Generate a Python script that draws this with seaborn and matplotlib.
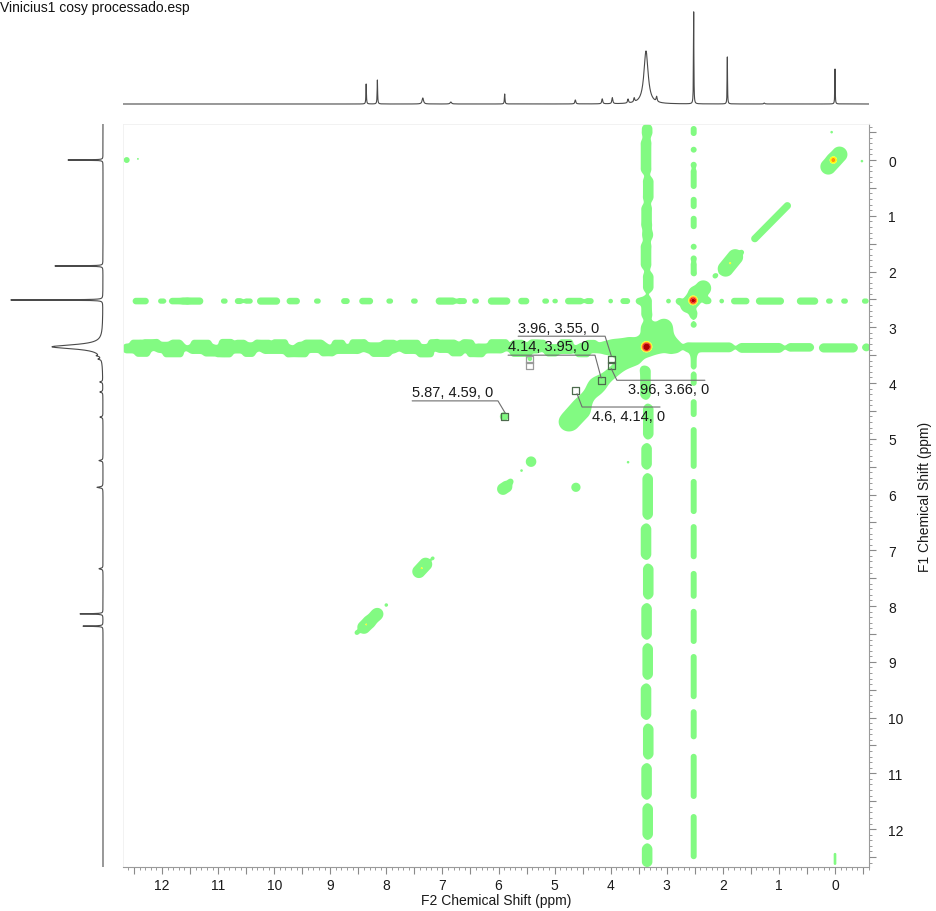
import numpy as np
import pandas as pd
import matplotlib
matplotlib.use("Agg")
import matplotlib.pyplot as plt
import seaborn as sns
from matplotlib.ticker import MultipleLocator, FuncFormatter

sns.set_theme(style="white")
plt.rcParams["font.family"] = ["Liberation Sans", "DejaVu Sans"]

# ---------------- data (ppm) ----------------
# 1D projection on top (F2): positions, heights, widths
top_ppm = [8.36, 8.16, 7.35, 6.85, 5.89, 4.63, 4.15, 3.97, 3.69, 3.58, 3.37, 3.18, 2.52, 1.92, 1.26, 0.00]
top_h = [20, 24, 6, 2, 10, 4, 5, 6, 4, 4, 53, 5, 92, 47, 1, 35]
top_w = [0.01, 0.01, 0.03, 0.03, 0.012, 0.02, 0.02, 0.02, 0.02, 0.02, 0.09, 0.02, 0.008, 0.008, 0.02, 0.008]

# 1D projection on left (F1)
side_ppm = [0.00, 1.90, 2.51, 3.35, 3.51, 3.57, 3.98, 4.16, 4.61, 5.39, 5.87, 7.33, 8.14, 8.36]
side_h = [35, 48, 92, 51, 3, 3, 3, 3, 3, 4, 6, 4, 23, 20]
side_w = [0.008, 0.008, 0.008, 0.09, 0.02, 0.02, 0.02, 0.02, 0.02, 0.02, 0.02, 0.02, 0.01, 0.01]

# strong diagonal peaks (coloured centres)
pk_f2 = [3.36, 2.53, 0.03, 1.87, 7.37, 8.36, 8.16]
pk_f1 = [3.35, 2.52, 0.00, 1.85, 7.32, 8.33, 8.14]
pk_amp = [100, 40, 8, 2.6, 2.5, 2.4, 1.8]
pk_sig = [0.035, 0.035, 0.04, 0.025, 0.025, 0.025, 0.02]

# green blobs / ridges: segment (f2a, f1a) -> (f2b, f1b), width
bl_f2a = [0.12, 2.62, 1.95, 1.43, 3.05, 3.60, 4.25, 4.52, 5.92, 5.42, 4.62, 7.42, 8.16, 8.40,
          12.63, 12.43, 5.90, 5.44, 2.14, 1.66, 0.06, -0.48, 5.59, 3.69, 7.17, 8.53, 8.00, 0.00, 5.78,
          3.30, 3.70]
bl_f1a = [0.12, 2.60, 1.95, 1.41, 3.00, 3.50, 4.05, 4.50, 5.90, 5.41, 5.87, 7.38, 8.14, 8.38,
          0.00, -0.02, 4.60, 3.57, 2.08, 1.65, -0.50, 0.02, 5.57, 5.42, 7.14, 8.48, 7.98, 12.45, 5.76,
          3.34, 3.33]
bl_f2b = [-0.08, 2.35, 1.78, 0.85, 3.62, 4.25, 4.78, 4.70, 5.86, 5.42, 4.62, 7.30, 8.16, 8.32,
          12.63, 12.43, 5.90, 5.44, 2.14, 1.66, 0.06, -0.48, 5.59, 3.69, 7.17, 8.53, 8.00, 0.00, 5.78,
          2.95, 3.95]
bl_f1b = [-0.10, 2.30, 1.74, 0.82, 3.50, 4.05, 4.70, 4.68, 5.86, 5.41, 5.87, 7.25, 8.14, 8.30,
          0.00, -0.02, 4.60, 3.57, 2.08, 1.65, -0.50, 0.02, 5.57, 5.42, 7.14, 8.48, 7.98, 12.62, 5.76,
          3.30, 3.36]
bl_w = [0.12, 0.12, 0.12, 0.055, 0.13, 0.09, 0.10, 0.12, 0.09, 0.08, 0.07, 0.10, 0.09, 0.10,
        0.045, 0.015, 0.065, 0.03, 0.03, 0.02, 0.02, 0.02, 0.02, 0.02, 0.02, 0.025, 0.025, 0.02, 0.03,
        0.12, 0.11]

# horizontal t1-noise dashes at F1 = 2.53 (F2 centre, visible length)
h25_f1 = 2.53
h25_c = [12.38, 12.00, 11.73, 11.43, 10.89, 10.63, 10.46, 10.10, 9.66, 9.23, 8.73, 8.36, 7.94, 7.50,
         6.94, 6.65, 6.41, 5.99, 5.55, 5.16, 4.99, 4.65, 4.38, 4.00, 3.74, 3.49, 2.97, 2.79, 2.27,
         2.02, 1.69, 1.16, 0.49, 0.10, -0.17, -0.54]
h25_len = [0.25, 0.11, 0.25, 0.29, 0.09, 0.11, 0.12, 0.37, 0.20, 0.09, 0.12, 0.21, 0.09, 0.09,
           0.32, 0.14, 0.09, 0.36, 0.16, 0.09, 0.07, 0.29, 0.12, 0.05, 0.14, 0.09, 0.05, 0.05, 0.09,
           0.05, 0.29, 0.46, 0.34, 0.09, 0.09, 0.09]
h25_w = [0.05, 0.04, 0.05, 0.055, 0.04, 0.045, 0.04, 0.055, 0.05, 0.04, 0.045, 0.05, 0.04, 0.04,
         0.055, 0.045, 0.04, 0.055, 0.05, 0.04, 0.035, 0.05, 0.045, 0.035, 0.045, 0.04, 0.035, 0.035, 0.04,
         0.035, 0.05, 0.055, 0.055, 0.04, 0.04, 0.04]

# horizontal band at F1 ~ 3.37 (F2 start, F2 end, F1, width)
hb_a = [12.70, 12.12, 11.52, 10.98, 10.22, 9.62, 8.98, 8.38, 7.72, 7.12, 6.42, 5.82, 5.18, 4.58, 3.98,
        2.97, 2.68, 1.73, 0.85, 0.27, -0.50]
hb_b = [12.20, 11.60, 11.05, 10.30, 9.70, 9.05, 8.45, 7.80, 7.20, 6.50, 5.90, 5.25, 4.65, 4.05, 3.60,
        2.77, 1.82, 0.93, 0.39, -0.39, -0.62]
hb_f1 = [3.38, 3.36, 3.39, 3.37, 3.39, 3.36, 3.39, 3.37, 3.39, 3.36, 3.38, 3.37, 3.39, 3.37, 3.38,
         3.36, 3.36, 3.37, 3.36, 3.37, 3.36]
hb_w = [0.075, 0.085, 0.075, 0.085, 0.075, 0.085, 0.075, 0.085, 0.075, 0.085, 0.075, 0.085, 0.075, 0.08, 0.08,
        0.065, 0.075, 0.075, 0.065, 0.07, 0.06]
lump_f2 = [12.45, 12.2, 11.75, 11.3, 10.85, 10.6, 10.2, 9.9, 9.3, 8.85, 8.5, 7.95, 7.6, 7.15, 6.9, 6.55,
           6.0, 5.65, 5.3, 4.8, 4.35,
           12.35, 11.8, 11.15, 10.9, 10.45, 9.6, 9.05, 8.1, 7.3, 6.75, 6.4, 5.6, 5.05, 4.5]
lump_f1 = [3.27, 3.26, 3.28, 3.27, 3.26, 3.28, 3.27, 3.26, 3.28, 3.27, 3.26, 3.28, 3.27, 3.26, 3.28, 3.27,
           3.26, 3.28, 3.27, 3.26, 3.28,
           3.48, 3.49, 3.47, 3.49, 3.48, 3.49, 3.47, 3.48, 3.49, 3.47, 3.49, 3.48, 3.47, 3.49]
lump_len = [0.12, 0.2, 0.1, 0.25, 0.15, 0.1, 0.2, 0.18, 0.25, 0.12, 0.2, 0.15, 0.3, 0.1, 0.2, 0.12,
            0.25, 0.12, 0.2, 0.15, 0.1,
            0.15, 0.25, 0.12, 0.2, 0.1, 0.3, 0.15, 0.25, 0.18, 0.12, 0.2, 0.25, 0.12, 0.15]

# vertical band at F2 ~ 3.35 (F1 start, F1 end, F2)
v33_a = [-0.65, -0.38, 0.30, 0.79, 1.27, 1.47, 2.01, 2.44, 2.91, 3.70, 4.38, 5.09, 5.63, 6.53, 7.25,
         7.96, 8.68, 9.40, 10.12, 10.83, 11.55, 12.27]
v33_b = [-0.41, 0.25, 0.75, 1.24, 1.42, 1.96, 2.37, 2.85, 3.09, 4.29, 5.00, 5.54, 6.44, 7.16, 7.87,
         8.59, 9.31, 10.03, 10.74, 11.46, 12.18, 12.68]
v33_f2 = [3.35, 3.37, 3.33, 3.36, 3.34, 3.37, 3.33, 3.36, 3.35, 3.38, 3.33, 3.36, 3.34, 3.37, 3.33,
          3.36, 3.34, 3.37, 3.33, 3.36, 3.34, 3.35]

# vertical dashes at F2 ~ 2.52
v25_f2 = 2.52
v25_a = [-0.61, -0.23, 0.04, 0.16, 0.66, 1.00, 1.51, 1.72, 1.83, 2.31, 2.71, 2.91, 3.44, 3.80, 4.29,
         4.79, 5.72, 6.53, 7.37, 8.05, 8.86, 9.85, 10.65, 11.73]
v25_b = [-0.43, -0.14, 0.13, 0.52, 0.88, 1.24, 1.60, 1.81, 2.08, 2.46, 2.85, 3.00, 3.75, 4.05, 4.61,
         5.54, 6.35, 7.16, 7.87, 8.68, 9.67, 10.39, 11.46, 12.54]

# picked cross peaks and labels
box_f2 = [3.99, 3.99, 4.17, 4.62, 5.90]
box_f1 = [3.57, 3.68, 3.96, 4.13, 4.60]
gbox_f2 = [5.44, 5.44]
gbox_f1 = [3.57, 3.68]
lab_text = ["3.96, 3.55, 0", "4.14, 3.95, 0", "3.96, 3.66, 0", "4.6, 4.14, 0", "5.87, 4.59, 0"]
lab_x0 = [5.65, 5.83, 2.32, 3.12, 7.54]     # far end of leader underline
lab_x1 = [4.10, 4.28, 3.89, 4.51, 6.01]     # elbow of leader
lab_y = [3.16, 3.50, 3.95, 4.43, 4.32]
lab_tx = [5.65, 5.83, 3.69, 4.33, 7.54]
lab_ty = [3.13, 3.47, 3.99, 4.47, 4.29]
lab_va = ["bottom", "bottom", "top", "top", "bottom"]
lab_px = [3.99, 4.17, 3.99, 4.60, 5.88]
lab_py = [3.51, 3.91, 3.74, 4.19, 4.54]

# ---------------- build 2D map ----------------
xs = np.linspace(-0.75, 12.85, 1150)
ys = np.linspace(-0.75, 12.85, 1150)
B = np.zeros((len(ys), len(xs)))
P = np.zeros((len(ys), len(xs)))


def capsule(Z, x1, y1, x2, y2, s, a):
    r = 4.5 * s
    i0 = np.searchsorted(xs, min(x1, x2) - r)
    i1 = np.searchsorted(xs, max(x1, x2) + r)
    j0 = np.searchsorted(ys, min(y1, y2) - r)
    j1 = np.searchsorted(ys, max(y1, y2) + r)
    if i1 <= i0 or j1 <= j0:
        return
    X, Y = np.meshgrid(xs[i0:i1], ys[j0:j1])
    dx, dy = x2 - x1, y2 - y1
    L2 = dx * dx + dy * dy
    t = np.clip(((X - x1) * dx + (Y - y1) * dy) / L2, 0, 1) if L2 > 0 else 0.0
    d2 = (X - x1 - t * dx) ** 2 + (Y - y1 - t * dy) ** 2
    Z[j0:j1, i0:i1] += a * np.exp(-0.5 * d2 / s ** 2)


def shrink(a, b, e):
    lo, hi = min(a, b), max(a, b)
    if hi - lo > 2 * e:
        return lo + e, hi - e
    m = 0.5 * (lo + hi)
    return m, m


for x1, y1, x2, y2, w in zip(bl_f2a, bl_f1a, bl_f2b, bl_f1b, bl_w):
    capsule(B, x1, y1, x2, y2, w, 1.0)

for c, L, w in zip(h25_c, h25_len, h25_w):
    lo, hi = shrink(c - L / 2, c + L / 2, 0.8 * w)
    capsule(B, lo, h25_f1, hi, h25_f1, w, 1.0)

for a, b, f1, w in zip(hb_a, hb_b, hb_f1, hb_w):
    lo, hi = shrink(a, b, 1.0 * w)
    capsule(B, lo, f1, hi, f1, w, 1.0)
for f2, f1, L in zip(lump_f2, lump_f1, lump_len):
    capsule(B, f2 - L / 2, f1, f2 + L / 2, f1, 0.035, 1.0)

s33 = 0.08
for a, b, f2 in zip(v33_a, v33_b, v33_f2):
    lo, hi = shrink(a, b, 1.18 * s33)
    capsule(B, f2, lo, f2, hi, s33, 1.0)

sv25 = 0.045
for a, b in zip(v25_a, v25_b):
    lo, hi = shrink(a, b, 1.18 * sv25)
    capsule(B, v25_f2, lo, v25_f2, hi, sv25, 1.0)

for f2, f1, amp, s in zip(pk_f2, pk_f1, pk_amp, pk_sig):
    capsule(P, f2, f1, f2, f1, s, amp)

Z = np.minimum(B, 1.5) + P

# ---------------- figure ----------------
W, H = 937, 912
fig = plt.figure(figsize=(W / 100, H / 100), dpi=100)
ax = fig.add_axes([123 / W, (H - 868) / H, 746 / W, 743 / H])
axt = fig.add_axes([123 / W, (H - 107) / H, 746 / W, 97 / H])
axl = fig.add_axes([8 / W, (H - 868) / H, 98 / W, 743 / H])

XL = (12.696, -0.606)
YL = (12.68, -0.646)

ax.contourf(xs, ys, Z, levels=[0.5, 3, 6, 12, 25, 1e9],
            colors=["#82FA82", "#FFFF00", "#FF9900", "#FF1A00", "#B00000"], antialiased=True)

# picked peaks
ax.scatter(box_f2, box_f1, marker="s", s=26, facecolors="none", edgecolors="#4d6b4d", linewidths=0.9, zorder=4)
ax.scatter(gbox_f2, gbox_f1, marker="s", s=26, facecolors="none", edgecolors="#9a9a9a", linewidths=0.9, zorder=4)
for t, x0, x1, y, tx, ty, va, px, py in zip(lab_text, lab_x0, lab_x1, lab_y, lab_tx, lab_ty, lab_va, lab_px, lab_py):
    ax.plot([x0, x1, px], [y, y, py], color="#6e6e6e", lw=0.8, zorder=4)
    ax.text(tx, ty, t, ha="left", va=va, fontsize=10.5, color="#1a1a1a", zorder=5)

ax.set_xlim(*XL)
ax.set_ylim(*YL)
ax.yaxis.tick_right()
ax.yaxis.set_label_position("right")
fmt = FuncFormatter(lambda v, p: f"{int(round(v))}" if abs(v - round(v)) < 1e-6 else "")
for a_ in (ax.xaxis, ax.yaxis):
    a_.set_major_locator(MultipleLocator(0.5))
    a_.set_minor_locator(MultipleLocator(0.1))
    a_.set_major_formatter(fmt)
ax.tick_params(which="major", length=5, width=0.8, color="#8a8a8a", labelsize=10, labelcolor="#1a1a1a")
ax.tick_params(which="minor", length=2.5, width=0.6, color="#8a8a8a")
ax.tick_params(axis="x", which="both", direction="out", bottom=True, top=False, pad=3)
ax.tick_params(axis="y", which="both", direction="out", right=True, left=False, pad=9)
for side in ("top", "left"):
    ax.spines[side].set_color("#f0f0f0")
    ax.spines[side].set_linewidth(0.6)
for side in ("right", "bottom"):
    ax.spines[side].set_color("#9a9a9a")
    ax.spines[side].set_linewidth(0.8)
ax.set_xlabel("F2 Chemical Shift (ppm)", fontsize=10, labelpad=1, color="#1a1a1a")
ax.set_ylabel("F1 Chemical Shift (ppm)", fontsize=10, labelpad=10, color="#1a1a1a")

# projections
grid = np.linspace(-0.75, 12.85, 6801)


def spectrum(pos, hts, wds):
    y = np.zeros_like(grid)
    for p, h, w in zip(pos, hts, wds):
        y += h / (1 + ((grid - p) / (w / 2)) ** 2)
    return y


top_df = pd.DataFrame({"ppm": grid, "I": spectrum(top_ppm, top_h, top_w)})
side_df = pd.DataFrame({"ppm": grid, "I": spectrum(side_ppm, side_h, side_w)})
sns.lineplot(data=top_df, x="ppm", y="I", ax=axt, color="#4a4a4a", lw=0.8, estimator=None, sort=False)
sns.lineplot(data=side_df, x="I", y="ppm", ax=axl, color="#4a4a4a", lw=0.8, estimator=None, sort=False, orient="y")
axt.set_xlim(*XL)
axt.set_ylim(-2, 95)
axt.axis("off")
axl.set_ylim(*YL)
axl.set_xlim(95, -3)
axl.axis("off")

fig.text(0.0, 1 - 1 / H, "Vinicius1 cosy processado.esp", ha="left", va="top", fontsize=10, color="#111111")

fig.savefig("out.png", dpi=100)
